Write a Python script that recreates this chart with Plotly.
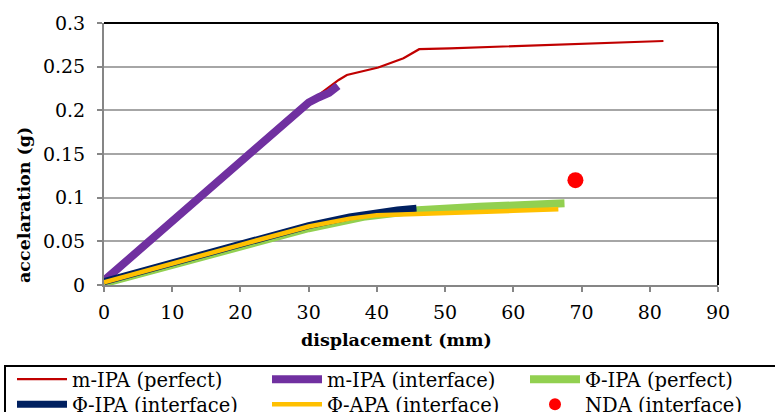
import plotly.graph_objects as go

# m-IPA (perfect)
m_perf_x = [0, 10, 20, 30, 34.4, 35.6, 40.2, 43.9, 46.2, 50.7, 82]
m_perf_y = [0.005, 0.072, 0.142, 0.209, 0.2348, 0.2405, 0.249, 0.2596, 0.270, 0.271, 0.2794]
# m-IPA (interface)
m_int_x = [0, 10, 20, 30, 31.5, 33, 34.3]
m_int_y = [0.005, 0.072, 0.142, 0.209, 0.215, 0.220, 0.228]
# Φ-IPA (perfect)
p_perf_x = [0, 10, 20, 30, 38, 42, 46, 55, 62, 67.5]
p_perf_y = [0.002, 0.023, 0.045, 0.065, 0.078, 0.082, 0.0855, 0.0895, 0.092, 0.0935]
# Φ-IPA (interface)
p_int_x = [0, 10, 20, 30, 36, 40, 43, 45.8]
p_int_y = [0.004, 0.026, 0.047, 0.068, 0.078, 0.083, 0.086, 0.0878]
# Φ-APA (interface)
a_int_x = [0, 10, 20, 30, 36, 40, 50, 60, 66.6]
a_int_y = [0.003, 0.025, 0.046, 0.067, 0.076, 0.080, 0.082, 0.085, 0.0867]
# NDA (interface)
nda_x = [69.1]
nda_y = [0.120]

x_ticks = [0, 10, 20, 30, 40, 50, 60, 70, 80, 90]
y_ticks = [0, 0.05, 0.1, 0.15, 0.2, 0.25, 0.3]
y_tick_labels = ["0", "0.05", "0.1", "0.15", "0.2", "0.25", "0.3"]

FONT = "DejaVu Serif, Liberation Serif, serif"
W, H = 775, 412
L, R, T, B = 104, 57, 23, 127
PW, PH = W - L - R, H - T - B

fig = go.Figure()
fig.add_trace(go.Scatter(x=m_perf_x, y=m_perf_y, mode="lines", name="m-IPA (perfect)",
                         line=dict(color="#C00000", width=2.2), legend="legend"))
fig.add_trace(go.Scatter(x=m_int_x, y=m_int_y, mode="lines", name="m-IPA (interface)",
                         line=dict(color="#7030A0", width=8), legend="legend2"))
fig.add_trace(go.Scatter(x=p_perf_x, y=p_perf_y, mode="lines", name="Φ-IPA (perfect)",
                         line=dict(color="#92D050", width=8), legend="legend3"))
fig.add_trace(go.Scatter(x=p_int_x, y=p_int_y, mode="lines", name="Φ-IPA (interface)",
                         line=dict(color="#002060", width=7), legend="legend4"))
fig.add_trace(go.Scatter(x=a_int_x, y=a_int_y, mode="lines", name="Φ-APA (interface)",
                         line=dict(color="#FFC000", width=4.5), legend="legend5"))
fig.add_trace(go.Scatter(x=nda_x, y=nda_y, mode="markers", name="NDA (interface)",
                         marker=dict(color="#FF0000", size=16), legend="legend6"))


def legend_at(px, py, sizing="trace"):
    return dict(orientation="v", xref="container", yref="container",
                x=px / W, xanchor="left", y=1 - py / H, yanchor="top",
                font=dict(family=FONT, size=19.5), itemwidth=50, tracegroupgap=0,
                itemsizing=sizing, borderwidth=0, bgcolor="rgba(0,0,0,0)")


fig.update_layout(
    width=W, height=H,
    margin=dict(l=L, r=R, t=T, b=B, autoexpand=False),
    paper_bgcolor="white", plot_bgcolor="white",
    font=dict(family=FONT, size=19, color="black"),
    showlegend=True,
    legend=legend_at(12, 360),
    legend2=legend_at(267, 360),
    legend3=legend_at(525, 360),
    legend4=legend_at(12, 385),
    legend5=legend_at(267, 385),
    legend6=legend_at(525, 385, "constant"),
    xaxis=dict(range=[0, 90], tickvals=x_ticks, showgrid=False, zeroline=False,
               showline=True, linecolor="#868686", linewidth=2,
               ticks="outside", ticklen=5, tickcolor="#868686", tickwidth=1.5,
               ticklabelstandoff=4,
               tickfont=dict(family=FONT, size=19)),
    yaxis=dict(range=[0, 0.3], tickvals=y_ticks, ticktext=y_tick_labels,
               showgrid=True, gridcolor="#A6A6A6", gridwidth=1.5, zeroline=False,
               showline=True, linecolor="#868686", linewidth=2,
               ticks="outside", ticklen=5, tickcolor="#868686", tickwidth=1.5,
               ticklabelstandoff=8,
               tickfont=dict(family=FONT, size=19)),
)

# top/right black border
fig.add_shape(type="line", xref="paper", yref="paper", x0=0, x1=1, y0=1, y1=1,
              line=dict(color="black", width=2))
fig.add_shape(type="line", xref="paper", yref="paper", x0=1, x1=1, y0=0, y1=1,
              line=dict(color="black", width=2))
# legend frame
fig.add_shape(type="rect", xref="paper", yref="paper",
              x0=(5 - L) / PW, x1=(790 - L) / PW,
              y0=(T + PH - 420) / PH, y1=(T + PH - 366) / PH,
              line=dict(color="black", width=2), fillcolor="rgba(0,0,0,0)")

fig.add_annotation(text="<b>displacement (mm)</b>", xref="paper", yref="paper",
                   x=(396 - L) / PW, y=(T + PH - 340) / PH, showarrow=False,
                   font=dict(family=FONT, size=17.5), xanchor="center", yanchor="middle")
fig.add_annotation(text="<b>accelaration (g)</b>", xref="paper", yref="paper",
                   x=(24 - L) / PW, y=(T + PH - 205) / PH, showarrow=False, textangle=-90,
                   font=dict(family=FONT, size=17.5), xanchor="center", yanchor="middle")

fig.write_html("out.html", config={"displayModeBar": False})

# remove the browser's default body margin so the figure sits at the window origin
with open("out.html", "r", encoding="utf-8") as f:
    html = f.read()
html = html.replace("<body>", '<body style="margin:0;overflow:hidden">', 1)
with open("out.html", "w", encoding="utf-8") as f:
    f.write(html)
